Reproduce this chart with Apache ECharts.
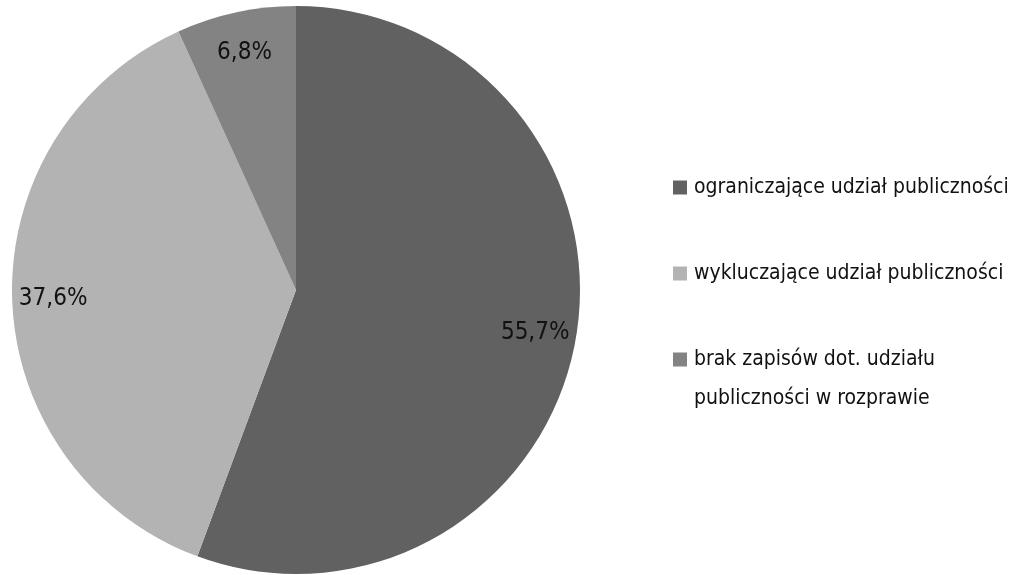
<!DOCTYPE html>
<html>
<head>
<meta charset="utf-8">
<script src="https://cdn.jsdelivr.net/npm/echarts@6/dist/echarts.min.js"></script>
<style>
  html, body { margin: 0; padding: 0; background: #fff; }
  #chart { width: 1019px; height: 575px; }
</style>
</head>
<body>
<div id="chart"></div>
<script>
var names = ['ograniczające udział publiczności', 'wykluczające udział publiczności', 'brak zapisów dot. udziału publiczności w rozprawie'];
var legendText = ['ograniczające udział publiczności', 'wykluczające udział publiczności', 'brak zapisów dot. udziału\npubliczności w rozprawie'];
var values = [55.7, 37.6, 6.8];
var colors = ['#616161', '#b3b3b3', '#838383'];

var font = '"Liberation Sans Narrow", "DejaVu Sans Condensed", "Roboto", sans-serif';

var myChart = echarts.init(document.getElementById('chart'));

var dataArr = names.map(function (n, i) {
    return { name: n, value: values[i], itemStyle: { color: colors[i] } };
});

function oneLegend(i, top, itemH, icon) {
    return {
        orient: 'vertical',
        left: 668,
        top: top,
        itemWidth: 14,
        itemHeight: itemH,
        icon: icon,
        selectedMode: false,
        data: [names[i]],
        formatter: function () { return legendText[i]; },
        textStyle: { fontFamily: font, fontSize: 21, color: '#111', lineHeight: 39, padding: [0, 0, 0, 2] }
    };
}

var option = {
    animation: false,
    legend: [
        oneLegend(0, 163, 14, 'rect'),
        oneLegend(1, 249, 14, 'rect'),
        oneLegend(2, 335, 53, 'path://M0,0h14v14h-14z M0,53h0.01v0.01h-0.01z')
    ],
    series: [
        {
            type: 'pie',
            radius: [0, 284],
            center: [296, 290],
            startAngle: 90,
            clockwise: true,
            label: { show: false },
            labelLine: { show: false },
            emphasis: { disabled: true },
            data: dataArr
        },
        {
            type: 'pie',
            radius: [196, 284],
            center: [296, 290],
            startAngle: 90,
            silent: true,
            legendHoverLink: false,
            itemStyle: { color: 'transparent' },
            label: {
                show: true,
                position: 'inside',
                fontFamily: font,
                fontSize: 24,
                color: '#111',
                formatter: function (p) { return String(p.value).replace('.', ',') + '%'; }
            },
            labelLine: { show: false },
            emphasis: { disabled: true },
            data: names.map(function (n, i) { return { name: n + ' ', value: values[i] }; })
        }
    ]
};

myChart.setOption(option);
</script>
</body>
</html>
